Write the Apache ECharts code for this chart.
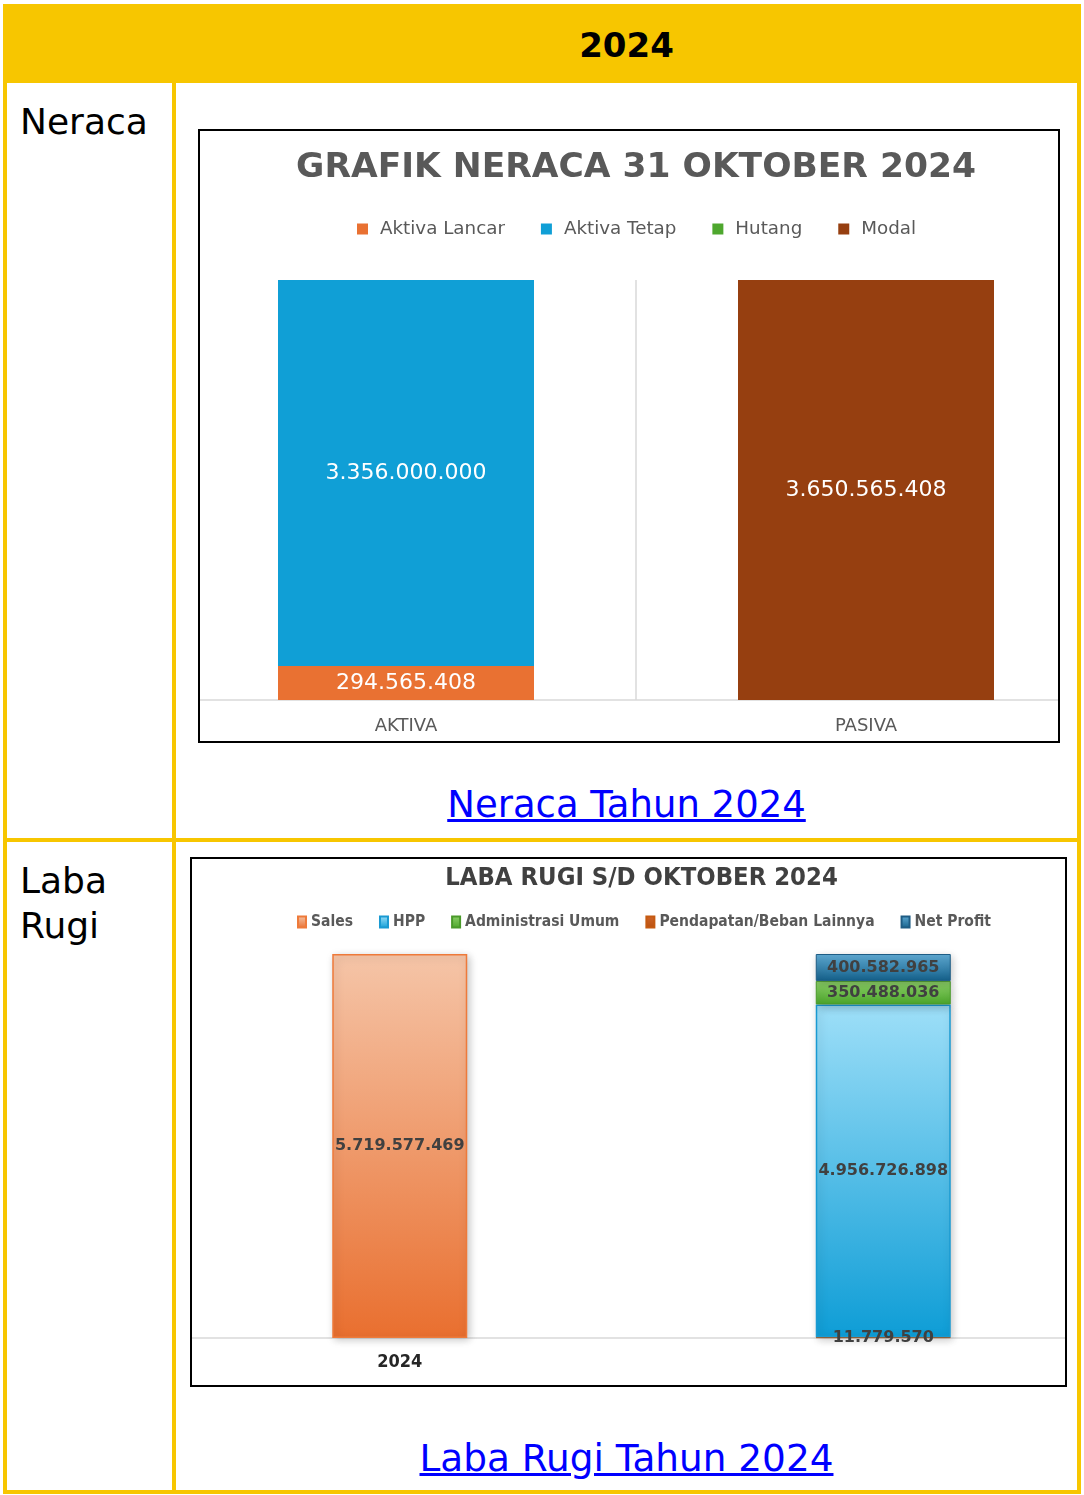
<!DOCTYPE html>
<html><head><meta charset="utf-8">
<script src="https://cdn.jsdelivr.net/npm/echarts@6/dist/echarts.min.js"></script>
<style>
html,body{margin:0;padding:0;background:#fff;width:1084px;height:1495px;overflow:hidden;}
.abs{position:absolute;}
.y{background:#F7C600;}
.t{font-family:"DejaVu Sans",sans-serif;color:#000;white-space:nowrap;}
a{color:#0000FF;text-decoration:underline;}
.box{position:absolute;border:2px solid #000;background:#fff;box-sizing:border-box;overflow:hidden;}
</style></head><body>
<!-- table frame -->
<div class="abs y" style="left:3px;top:4px;width:1078px;height:79px"></div>
<div class="abs y" style="left:3px;top:4px;width:4px;height:1490px"></div>
<div class="abs y" style="left:1077px;top:4px;width:4px;height:1490px"></div>
<div class="abs y" style="left:3px;top:1490px;width:1078px;height:4px"></div>
<div class="abs y" style="left:172px;top:83px;width:4px;height:1411px"></div>
<div class="abs y" style="left:3px;top:838px;width:1078px;height:4px"></div>

<div class="abs t" style="left:176px;top:4px;width:901px;height:79px;display:flex;align-items:center;justify-content:center;font-weight:bold;font-size:34px;padding-top:2px;box-sizing:border-box">2024</div>
<div class="abs t" style="left:20px;top:104px;font-size:36px;line-height:36px">Neraca</div>
<div class="abs t" style="left:20px;top:858px;font-size:36px;line-height:45px">Laba<br>Rugi</div>

<div class="box" style="left:198px;top:129px;width:862px;height:614px"><div id="c1" style="position:absolute;left:-24px;top:0;width:920px;height:610px"></div></div>
<div class="abs t" style="left:176px;top:786px;width:901px;text-align:center;font-size:37px;line-height:37px"><a href="#">Neraca Tahun 2024</a></div>

<div class="box" style="left:190px;top:857px;width:877px;height:530px"><div id="c2" style="position:absolute;left:-34px;top:0;width:967px;height:526px"></div></div>
<div class="abs t" style="left:176px;top:1440px;width:901px;text-align:center;font-size:37.4px;line-height:37px"><a href="#">Laba Rugi Tahun 2024</a></div>

<script>
// ---- Neraca data ----
const neracaCategories = ['AKTIVA', 'PASIVA'];
const neracaSeriesNames = ['Aktiva Lancar', 'Aktiva Tetap', 'Hutang', 'Modal'];
const aktivaLancar = [294565408, '-'];
const aktivaTetap = [3356000000, '-'];
const hutang = ['-', 0];
const modal = ['-', 3650565408];

// ---- Laba Rugi data ----
const lrCategories = ['2024', ''];
const lrLegendOrder = ['Sales', 'HPP', 'Administrasi Umum', 'Pendapatan/Beban Lainnya', 'Net Profit'];
const sales = [5719577469, '-'];
const pendapatanBebanLainnya = ['-', 11779570];
const hpp = ['-', 4956726898];
const administrasiUmum = ['-', 350488036];
const netProfit = ['-', 400582965];

function fmt(v){ return String(Math.round(v)).replace(/\B(?=(\d{3})+(?!\d))/g, '.'); }
function lbl(p){ return (typeof p.value === 'number' && p.value !== 0) ? fmt(p.value) : ''; }
function colSums(arrs, n){
  const s = [];
  for (let i = 0; i < n; i++) s.push(arrs.reduce((a, r) => a + (typeof r[i] === 'number' ? r[i] : 0), 0));
  return s;
}
function grad(top, bottom){
  return {type:'linear', x:0, y:0, x2:0, y2:1, colorStops:[{offset:0, color:top},{offset:1, color:bottom}]};
}

// ---- Chart 1 ----
const c1 = echarts.init(document.getElementById('c1'));
const nMax = Math.max(...colSums([aktivaLancar, aktivaTetap, hutang, modal], 2));
const nColors = ['#E97132', '#109FD6', '#4EA72E', '#963F10'];
const nData = [aktivaLancar, aktivaTetap, hutang, modal];
c1.setOption({
  animation:false,
  title:{
    text:'GRAFIK NERACA 31 OKTOBER 2024', left:'center', top:20, padding:0,
    textStyle:{fontFamily:'DejaVu Sans', fontWeight:'bold', fontSize:34.5, color:'#595959'}
  },
  legend:{
    data:neracaSeriesNames, left:181, top:89, padding:0, itemGap:36, itemWidth:11, itemHeight:11,
    icon:'rect', textStyle:{fontFamily:'DejaVu Sans', fontSize:18.3, color:'#595959', padding:[0,0,0,7]}
  },
  grid:{left:0, right:0, top:149, bottom:41, containLabel:false},
  xAxis:{
    type:'category', data:neracaCategories,
    axisLine:{lineStyle:{color:'#d9d9d9', width:1.5}}, axisTick:{show:false},
    splitLine:{show:true, lineStyle:{color:'#d9d9d9', width:1.5}},
    axisLabel:{fontFamily:'DejaVu Sans', fontSize:18, color:'#595959', margin:17}
  },
  yAxis:{type:'value', show:false, min:0, max:nMax, splitLine:{show:false}},
  series:neracaSeriesNames.map((name, i) => ({
    name, type:'bar', stack:'n', barWidth:256, data:nData[i],
    itemStyle:{color:nColors[i]},
    label:{show:true, position:'inside', formatter:lbl, color:'#fff', fontFamily:'DejaVu Sans', fontSize:22}
  }))
});

// ---- Chart 2 ----
const c2 = echarts.init(document.getElementById('c2'));
const lrMax = Math.max(...colSums([sales], 2), ...colSums([pendapatanBebanLainnya, hpp, administrasiUmum, netProfit], 2));
const shadow = {shadowBlur:8, shadowColor:'rgba(0,0,0,0.22)', shadowOffsetX:2, shadowOffsetY:2};
const lrLabel = {show:true, position:'inside', formatter:lbl, color:'#404040', fontFamily:'DejaVu Sans', fontWeight:'bold', fontSize:16};
const lrSeries = [
  {name:'Sales', data:sales, itemStyle:Object.assign({color:grad('#F5C5A8', '#E96F2F'), borderColor:'#EE7A3A', borderWidth:1.5}, shadow)},
  {name:'Pendapatan/Beban Lainnya', data:pendapatanBebanLainnya, itemStyle:Object.assign({color:grad('#D0652A', '#B8500F'), borderColor:'#C55A11', borderWidth:1}, shadow)},
  {name:'HPP', data:hpp, itemStyle:Object.assign({color:grad('#9EDFF8', '#0E9DD6'), borderColor:'#1A9AD2', borderWidth:1.5}, shadow)},
  {name:'Administrasi Umum', data:administrasiUmum, itemStyle:Object.assign({color:grad('#8ED16A', '#4BA52A'), borderColor:'#4A9A2A', borderWidth:1}, shadow)},
  {name:'Net Profit', data:netProfit, itemStyle:Object.assign({color:grad('#5FAAD3', '#14608A'), borderColor:'#1E5C84', borderWidth:1}, shadow)}
];
c2.setOption({
  animation:false,
  title:{
    text:'LABA RUGI S/D OKTOBER 2024', left:'center', top:7, padding:0,
    textStyle:{fontFamily:'DejaVu Sans Condensed', fontWeight:'bold', fontSize:25.4, color:'#404040'}
  },
  legend:{
    data:lrLegendOrder, left:139, top:55, padding:0, itemGap:26, itemWidth:8, itemHeight:11,
    icon:'rect', textStyle:{fontFamily:'DejaVu Sans Condensed', fontWeight:'bold', fontSize:15.5, color:'#595959'}
  },
  grid:{left:0, right:0, top:95, bottom:47, containLabel:false},
  xAxis:{
    type:'category', data:lrCategories,
    axisLine:{lineStyle:{color:'#d9d9d9', width:1.5}}, axisTick:{show:false}, splitLine:{show:false},
    axisLabel:{fontFamily:'DejaVu Sans Condensed', fontWeight:'bold', fontSize:18, color:'#262626', margin:15}
  },
  yAxis:{type:'value', show:false, min:0, max:lrMax, splitLine:{show:false}},
  series:lrSeries.map(s => Object.assign({type:'bar', stack:'lr', barWidth:135, label:lrLabel}, s))
});
</script>
</body></html>
